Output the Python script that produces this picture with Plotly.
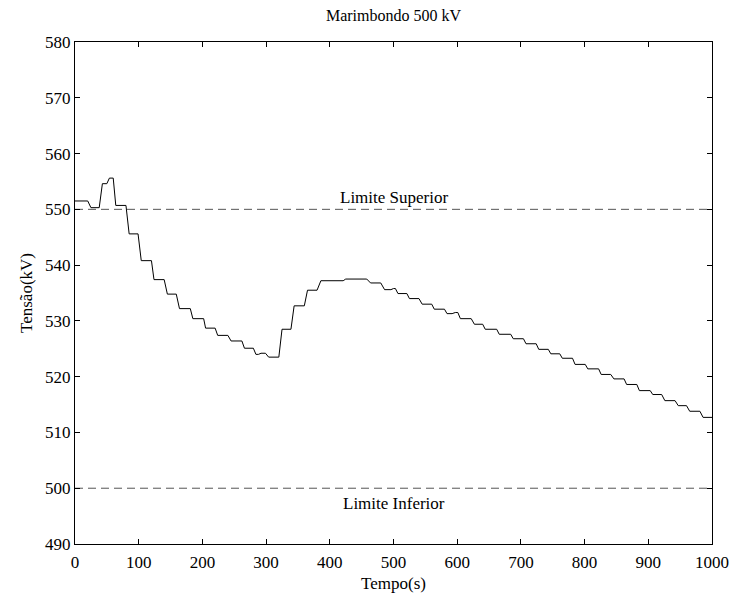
import plotly.graph_objects as go

# Voltage trace breakpoints (time in s, voltage in kV)
tempo = [0, 20, 25, 38, 43, 50, 54, 60, 64, 80, 85, 99, 104, 120, 124, 140, 145, 159, 164,
         181, 185, 202, 205, 220, 224, 240, 245, 262, 266, 280, 284, 288, 292, 299, 304,
         320, 325, 339, 344, 360, 365, 380, 386, 421, 425, 458, 464, 480, 486, 496, 500,
         503, 507, 521, 525, 540, 545, 560, 564, 580, 584, 592, 597, 601, 605, 622, 627,
         640, 644, 662, 666, 684, 688, 704, 708, 724, 728, 743, 747, 761, 765, 781, 785,
         801, 805, 822, 826, 841, 846, 862, 866, 882, 886, 903, 907, 921, 926, 942, 947,
         960, 965, 981, 986, 1000]
tensao = [551.5, 551.5, 550.3, 550.3, 554.6, 554.6, 555.6, 555.6, 550.7, 550.7, 545.6, 545.6,
          540.8, 540.8, 537.4, 537.4, 534.8, 534.8, 532.2, 532.2, 530.4, 530.4, 528.7, 528.7,
          527.4, 527.4, 526.4, 526.4, 525.1, 525.1, 524.0, 524.0, 524.2, 524.2, 523.5,
          523.5, 528.5, 528.5, 532.7, 532.7, 535.5, 535.5, 537.2, 537.2, 537.5, 537.5,
          536.8, 536.8, 535.6, 535.6, 535.8, 535.8, 534.9, 534.9, 534.0, 534.0, 533.0,
          533.0, 532.1, 532.1, 531.3, 531.3, 531.5, 531.5, 530.4, 530.4, 529.4, 529.4,
          528.5, 528.5, 527.6, 527.6, 526.8, 526.8, 525.9, 525.9, 524.9, 524.9, 524.1,
          524.1, 523.3, 523.3, 522.2, 522.2, 521.4, 521.4, 520.4, 520.4, 519.6, 519.6,
          518.6, 518.6, 517.5, 517.5, 516.8, 516.8, 515.7, 515.7, 514.8, 514.8, 513.8,
          513.8, 512.7, 512.7]

limite_superior = 550
limite_inferior = 500
x_limits = [0, 1000]
x_ticks = [0, 100, 200, 300, 400, 500, 600, 700, 800, 900, 1000]
y_ticks = [490, 500, 510, 520, 530, 540, 550, 560, 570, 580]

FONT = "Liberation Serif"

fig = go.Figure()
fig.add_trace(go.Scatter(x=tempo, y=tensao, mode="lines",
                         line=dict(color="black", width=1), showlegend=False,
                         hoverinfo="skip"))
for lim in (limite_superior, limite_inferior):
    fig.add_trace(go.Scatter(x=x_limits, y=[lim, lim], mode="lines",
                             line=dict(color="#555555", width=1, dash="8px,5px"),
                             showlegend=False, hoverinfo="skip"))

fig.add_annotation(x=500, y=limite_superior, text="Limite Superior", showarrow=False,
                   yshift=12, font=dict(family=FONT, size=17, color="black"))
fig.add_annotation(x=500, y=limite_inferior, text="Limite Inferior", showarrow=False,
                   yshift=-15, font=dict(family=FONT, size=17, color="black"))

axis_common = dict(showline=True, linecolor="black", linewidth=1, mirror="allticks",
                   ticks="inside", ticklen=5, tickcolor="black", showgrid=False,
                   zeroline=False, automargin=False,
                   tickfont=dict(family=FONT, size=17, color="black"))

fig.update_layout(
    width=736, height=601,
    margin=dict(l=75, r=24, t=42, b=57),
    paper_bgcolor="white", plot_bgcolor="white",
    title=dict(text="Marimbondo 500 kV", x=0.5, xref="paper", xanchor="center",
               y=0.975, yanchor="middle",
               font=dict(family=FONT, size=16, color="black")),
    xaxis=dict(range=x_limits, tickvals=x_ticks, ticklabelstandoff=3,
               title=dict(text="Tempo(s)", standoff=5,
                          font=dict(family=FONT, size=17, color="black")), **axis_common),
    yaxis=dict(range=[490, 580], tickvals=y_ticks,
               title=dict(text="Tensão(kV)", standoff=8,
                          font=dict(family=FONT, size=17, color="black")), **axis_common),
)

fig.write_html("out.html")
